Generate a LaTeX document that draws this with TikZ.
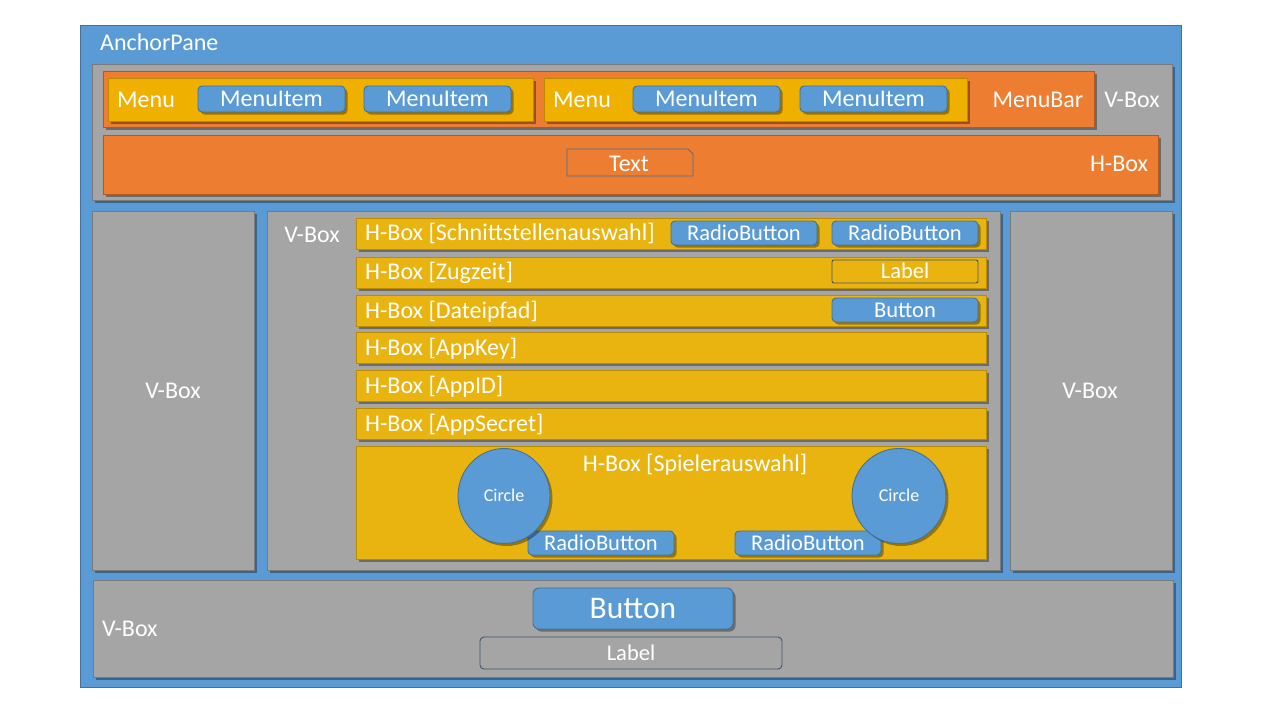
\documentclass[tikz,border=0pt]{standalone}
\usepackage{fontspec}
\setmainfont{Carlito}
\usetikzlibrary{fit,shadows,shapes.geometric}
\definecolor{apblue}{HTML}{5B9BD5}
\definecolor{apblueD}{HTML}{41719C}
\definecolor{vgray}{HTML}{A5A5A5}
\definecolor{vgrayD}{HTML}{7A7A7A}
\definecolor{org}{HTML}{ED7D31}
\definecolor{orgD}{HTML}{AE5A21}
\definecolor{ylw}{HTML}{E9B40F}
\definecolor{ylwM}{HTML}{F0B000}
\definecolor{ylwD}{HTML}{BC8C00}
\definecolor{lblD}{HTML}{44546A}
\tikzset{
  shd/.style={drop shadow={shadow xshift=2.5pt,shadow yshift=-2.5pt,opacity=0.35,fill=black}},
  base/.style={inner sep=0pt, line width=0.9pt},
  ap/.style={base, fill=apblue, draw=apblueD},
  gbox/.style={base, fill=vgray, draw=vgrayD, shd},
  obox/.style={base, fill=org, draw=orgD, shd},
  ybox/.style={base, fill=ylw, draw=ylwD, shd},
  mbox/.style={base, fill=ylwM, draw=ylwD, shd},
  btn/.style={base, fill=apblue, draw=apblueD, rounded corners=4pt, shd},
  lblbox/.style={base, draw=lblD, rounded corners=2pt},
  circ/.style={base, ellipse, fill=apblue, draw=apblueD, shd},
  lbl/.style={inner sep=0pt, text=white, font=\fontsize{24}{28}\selectfont, text height=15.5pt, text depth=0pt},
  blbl/.style={inner sep=0pt, text=white, font=\fontsize{22.5}{26}\selectfont, text height=14.5pt, text depth=0pt},
  biglbl/.style={inner sep=0pt, text=white, font=\fontsize{31.5}{36}\selectfont, text height=20.3pt, text depth=0pt},
  clbl/.style={inner sep=0pt, text=white, font=\fontsize{18}{21}\selectfont, text height=11.6pt, text depth=0pt},
}
\begin{document}
\begin{tikzpicture}[x=1pt,y=-1pt]
\useasboundingbox[fill=white] (0,0) rectangle (1280,720);
% AnchorPane
\node[ap, fit={(80,25)(1181,687)}] (anchor) {};
\node[lbl, anchor=west] (aplbl) at (100,43) {AnchorPane};
% top V-Box
\node[gbox, fit={(92,64)(1172,200)}] (topv) {};
\node[lbl] (topvl) at (1132,100) {V-Box};
\node[obox, fit={(103,71)(1094,127)}] (menubar) {};
\node[lbl] (menubarl) at (1038,100) {MenuBar};
\node[mbox, fit={(108,78)(533,121)}] (menu1) {};
\node[lbl, anchor=west] (menu1l) at (117,100) {Menu};
\node[btn, fit={(198,86)(345,112)}] (mi1) {};
\node[lbl] at (mi1.center) {MenuItem};
\node[btn, fit={(364,86)(511,112)}] (mi2) {};
\node[lbl] at (mi2.center) {MenuItem};
\node[mbox, fit={(544,78)(967,121)}] (menu2) {};
\node[lbl, anchor=west] (menu2l) at (553,100) {Menu};
\node[btn, fit={(633,86)(780,112)}] (mi3) {};
\node[lbl] at (mi3.center) {MenuItem};
\node[btn, fit={(800,86)(947,112)}] (mi4) {};
\node[lbl] at (mi4.center) {MenuItem};
\node[obox, fit={(103,135)(1158,194)}] (hbox) {};
\node[lbl] (hboxl) at (1119,164) {H-Box};
\draw[draw=apblueD, line width=0.9pt, fill=org] (567,149) -- (688,149) -- (693,154) -- (693,176) -- (567,176) -- cycle;
\node[lbl] (txt) at (629,164) {Text};
% middle V-Boxes
\node[gbox, fit={(92,211)(254,570)}] (leftv) {};
\node[lbl] (leftvl) at (173,391) {V-Box};
\node[gbox, fit={(1010,211)(1172,570)}] (rightv) {};
\node[lbl] (rightvl) at (1090,391) {V-Box};
\node[gbox, fit={(267,211)(1000,570)}] (midv) {};
\node[lbl] (midvl) at (312,235) {V-Box};
% rows
\node[ybox, fit={(356,218)(986,249)}] (r1) {};
\node[lbl, anchor=west] (r1l) at (365,233) {H-Box [Schnittstellenauswahl]};
\node[btn, fit={(671,221)(817,245)}] (rb1) {};
\node[blbl] at (rb1.center) {RadioButton};
\node[btn, fit={(832,221)(978,245)}] (rb2) {};
\node[blbl] at (rb2.center) {RadioButton};
\node[ybox, fit={(356,257)(986,288)}] (r2) {};
\node[lbl, anchor=west] (r2l) at (365,272) {H-Box [Zugzeit]};
\node[lblbox, fit={(832,260)(978,283)}] (lz) {};
\node[blbl] at (lz.center) {Label};
\node[ybox, fit={(356,295)(986,326)}] (r3) {};
\node[lbl, anchor=west] (r3l) at (365,311) {H-Box [Dateipfad]};
\node[btn, fit={(832,298)(978,322)}] (bt1) {};
\node[blbl] at (bt1.center) {Button};
\node[ybox, fit={(356,332)(986,363)}] (r4) {};
\node[lbl, anchor=west] (r4l) at (365,348) {H-Box [AppKey]};
\node[ybox, fit={(356,370)(986,401)}] (r5) {};
\node[lbl, anchor=west] (r5l) at (365,386) {H-Box [AppID]};
\node[ybox, fit={(356,408)(986,439)}] (r6) {};
\node[lbl, anchor=west] (r6l) at (365,424) {H-Box [AppSecret]};
\node[ybox, fit={(356,446)(986,559)}] (r7) {};
\node[lbl] (r7l) at (695,464) {H-Box [Spielerauswahl]};
\node[btn, fit={(528,531)(674,555)}] (rb3) {};
\node[blbl] at (rb3.center) {RadioButton};
\node[btn, fit={(735,531)(881,555)}] (rb4) {};
\node[blbl] at (rb4.center) {RadioButton};
\node[circ, minimum width=92pt, minimum height=95pt] (c1) at (504,496) {};
\node[clbl] at (c1.center) {Circle};
\node[circ, minimum width=94pt, minimum height=95pt] (c2) at (899,496) {};
\node[clbl] at (c2.center) {Circle};
% bottom V-Box
\node[gbox, fit={(93,580)(1173,677)}] (botv) {};
\node[lbl, anchor=west] (botvl) at (102,629) {V-Box};
\node[btn, rounded corners=6pt, fit={(533,588)(733,629)}] (bbtn) {};
\node[biglbl] at (bbtn.center) {Button};
\node[lblbox, rounded corners=4pt, fit={(480,637)(782,669)}] (blbl) {};
\node[blbl] at (blbl.center) {Label};
\end{tikzpicture}
\end{document}
